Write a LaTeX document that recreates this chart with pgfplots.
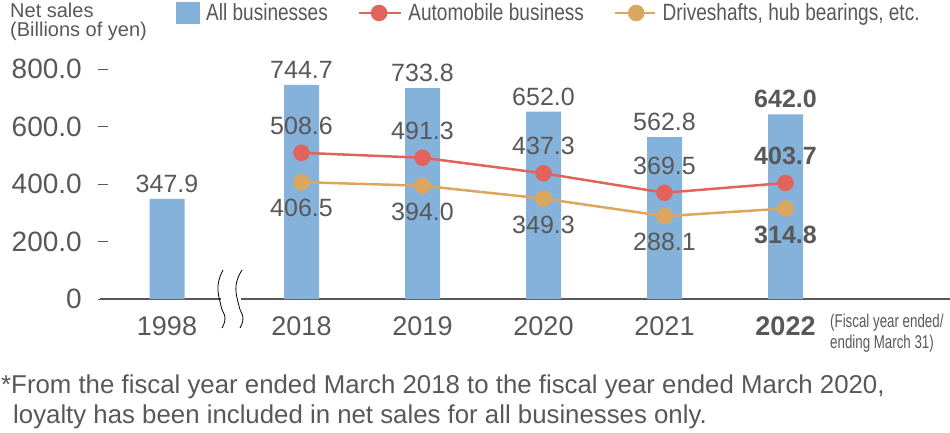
\documentclass[border=0pt]{standalone}
\usepackage{pgfplots}
\pgfplotsset{compat=1.18}
\usepackage{fontspec}
\setmainfont{Liberation Sans}
\newfontfamily\condfont{Liberation Sans}[FakeStretch=0.81]
\newfontfamily\notefont{Liberation Sans}[FakeStretch=0.72]
\definecolor{txt}{HTML}{595757}
\definecolor{barblue}{HTML}{84B2DA}
\definecolor{autored}{HTML}{E2635B}
\definecolor{driveor}{HTML}{DBA75F}
\begin{document}
\begin{tikzpicture}[x=1pt,y=1pt]
\useasboundingbox (0,0) rectangle (950,432);
\begin{axis}[
  at={(100pt,133pt)}, anchor=south west,
  scale only axis, width=850pt, height=230pt,
  xmin=100, xmax=950, ymin=0, ymax=800,
  clip=false,
  axis x line*=bottom, axis y line*=left,
  x axis line style={-, draw=txt, line width=1.3pt},
  y axis line style={draw=none},
  xtick={167,301.5,422.5,543.5,664.5,785.5},
  xticklabels={1998,2018,2019,2020,2021,\textbf{2022}},
  x tick style={draw=none},
  ytick={0,200,400,600,800},
  yticklabels={0,200.0,400.0,600.0,800.0},
  y tick style={draw=txt, line width=0.7pt, xshift=-2pt},
  major tick length=10pt,
  tick align=inside,
  yticklabel style={font=\fontsize{28}{30}\selectfont, text=txt, anchor=east, inner sep=0pt, xshift=-18pt},
  xticklabel style={font=\fontsize{27}{30}\selectfont, text=txt, anchor=north, inner sep=0pt, yshift=-17pt},
  /pgf/number format/assume math mode=true,
  legend columns=3,
  legend style={at={(axis description cs:0.0894,1.2435)}, anchor=west, draw=none, fill=none, inner sep=0pt,
    font=\condfont\fontsize{23.5}{26}\selectfont, text=txt,
    nodes={inner sep=0pt},
    /tikz/every odd column/.style={column sep=6pt},
    /tikz/every even column/.style={column sep=30pt}},
]
\addplot[ybar, bar width=35pt, fill=barblue, draw=none,
  nodes near coords, point meta=explicit symbolic,
  every node near coord/.append style={font=\fontsize{25}{28}\selectfont, text=txt, inner sep=0pt, anchor=south, yshift=6pt},
  legend image code/.code={\fill[barblue] (0pt,-11pt) rectangle (24pt,11pt);}]
coordinates {(167,347.9) [347.9] (301.5,744.7) [744.7] (422.5,733.8) [733.8] (543.5,652.0) [652.0] (664.5,562.8) [562.8] (785.5,642.0) [\textbf{642.0}]};
\addlegendentry{All businesses}
\addplot[autored, line width=2.5pt, mark=*, mark size=7pt, mark options={solid, fill=autored, draw=none},
  nodes near coords, point meta=explicit symbolic,
  every node near coord/.append style={font=\fontsize{25}{28}\selectfont, text=txt, inner sep=0pt, anchor=south, yshift=17pt},
  legend image code/.code={\draw[autored, line width=2.5pt] (0pt,0pt) -- (42pt,0pt); \fill[autored] (20pt,0pt) circle (7pt);}]
coordinates {(301.5,508.6) [508.6] (422.5,491.3) [491.3] (543.5,437.3) [437.3] (664.5,369.5) [369.5] (785.5,403.7) [\textbf{403.7}]};
\addlegendentry{Automobile business}
\addplot[driveor, line width=2.5pt, mark=*, mark size=7pt, mark options={solid, fill=driveor, draw=none},
  nodes near coords, point meta=explicit symbolic,
  every node near coord/.append style={font=\fontsize{25}{28}\selectfont, text=txt, inner sep=0pt, anchor=north, yshift=-16pt},
  legend image code/.code={\draw[driveor, line width=2.5pt] (0pt,0pt) -- (40pt,0pt); \fill[driveor] (21pt,0pt) circle (7pt);}]
coordinates {(301.5,406.5) [406.5] (422.5,394.0) [394.0] (543.5,349.3) [349.3] (664.5,288.1) [288.1] (785.5,314.8) [\textbf{314.8}]};
\addlegendentry{Driveshafts, hub bearings, etc.}
\end{axis}
% axis break
\fill[white] (221,130) rectangle (241,136.5);
\draw[line width=0.8pt, black] plot[smooth, tension=0.8] coordinates {(223,162) (218,146) (221,126) (225,114) (222,104)};
\draw[line width=0.8pt, black] plot[smooth, tension=0.8] coordinates {(242,162) (236,146) (239,126) (243,114) (240,104)};
% title
\node[anchor=base west, inner sep=0pt, text=txt, font=\fontsize{20}{22}\selectfont] at (10,414) {Net sales};
\node[anchor=base west, inner sep=0pt, text=txt, font=\fontsize{20}{22}\selectfont] at (10,395) {(Billions of yen)};
% fiscal note
\node[anchor=base west, inner sep=0pt, text=txt, font=\notefont\fontsize{18.5}{20}\selectfont] at (830,105) {(Fiscal year ended/};
\node[anchor=base west, inner sep=0pt, text=txt, font=\notefont\fontsize{18.5}{20}\selectfont] at (830,84) {ending March 31)};
% footnote
\node[anchor=base west, inner sep=0pt, text=txt, font=\fontsize{25.8}{28}\selectfont] at (1,39) {*From the fiscal year ended March 2018 to the fiscal year ended March 2020,};
\node[anchor=base west, inner sep=0pt, text=txt, font=\fontsize{25.8}{28}\selectfont] at (13,9) {loyalty has been included in net sales for all businesses only.};
\end{tikzpicture}
\end{document}
